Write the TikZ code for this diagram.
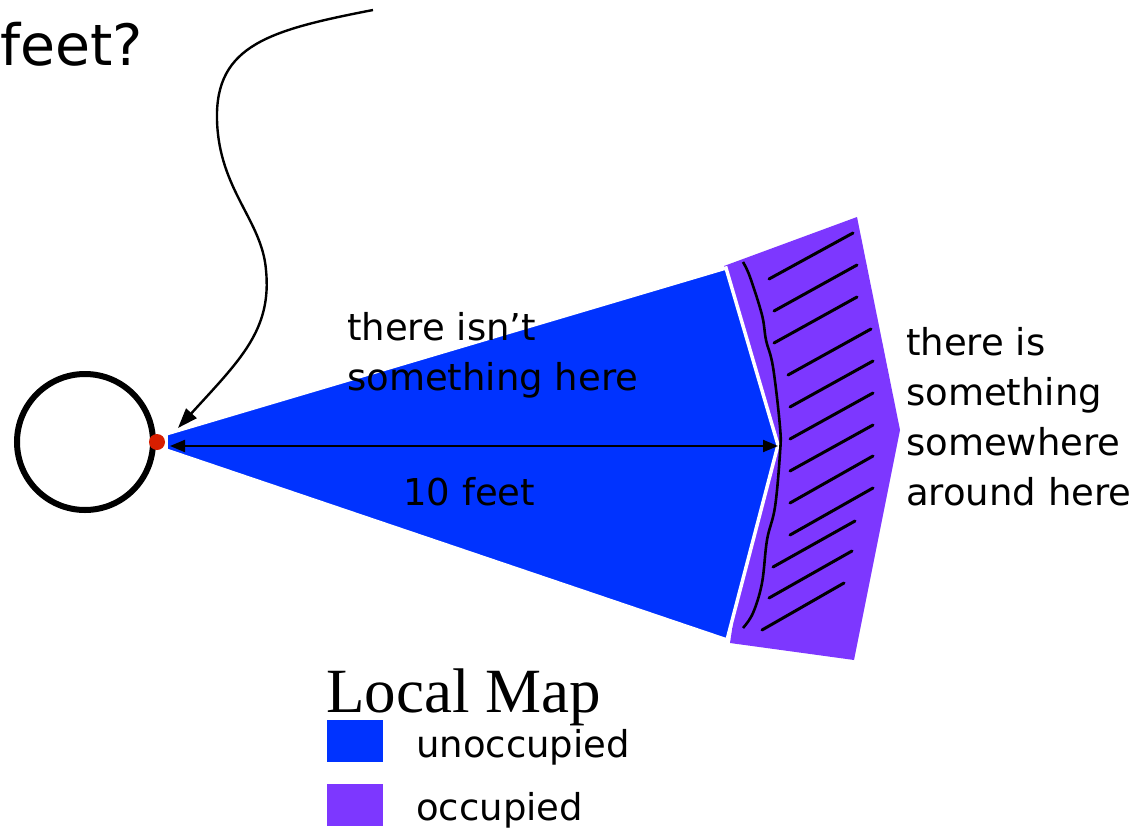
\documentclass[tikz,border=0pt]{standalone}
\usepackage{fontspec}
\setmainfont{DejaVu Sans}
\newfontfamily\seriffont{Liberation Serif}
\usetikzlibrary{arrows.meta}
\definecolor{freeblue}{RGB}{0,51,255}
\definecolor{occpurple}{RGB}{125,55,255}
\definecolor{dotred}{RGB}{215,30,0}
\tikzset{
  lbl/.style={anchor=base west, inner sep=0pt, font=\fontsize{37}{50}\selectfont, align=left},
  hatch/.style={line width=3pt, line cap=round},
  tip/.style={-{Triangle[length=20pt,width=14pt]}},
}
\begin{document}
\begin{tikzpicture}[x=1pt,y=-1pt]
\useasboundingbox (0,0) rectangle (1139,829);
% occupied region
\fill[occpurple] (724,266) -- (857,217) -- (900,430) -- (854,660) -- (730,643) -- (760,445) -- cycle;
% unoccupied region
\filldraw[fill=freeblue, draw=white, line width=3.5pt, line join=miter] (166,434) -- (726,268) -- (778,445) -- (727,640) -- (166,450) -- cycle;
% boundary curve
\draw[line width=2.6pt] plot[smooth, tension=0.6] coordinates {(743,262) (750,277) (762,315) (766,340) (773,367) (780,427) (780,453) (775,507) (767,540) (762,583) (753,613) (743,628)};
% hatch lines
\draw[hatch] (769,279) -- (853,233);
\draw[hatch] (774,311) -- (857,265);
\draw[hatch] (774,343) -- (857,297);
\draw[hatch] (788,375) -- (871,329);
\draw[hatch] (790,407) -- (873,361);
\draw[hatch] (790,439) -- (873,393);
\draw[hatch] (790,471) -- (873,425);
\draw[hatch] (790,503) -- (873,456);
\draw[hatch] (790,535) -- (873,488);
\draw[hatch] (773,567) -- (855,521);
\draw[hatch] (769,598) -- (852,551);
\draw[hatch] (762,630) -- (844,583);
% robot
\node[draw, circle, line width=6pt, minimum size=136pt, inner sep=0pt] (robot) at (85,442) {};
\node[circle, fill=dotred, minimum size=16pt, inner sep=0pt] (sensor) at (157,442) {};
% range arrow
\coordinate (rl) at (170,446);
\coordinate (rr) at (778,446);
\draw[line width=2pt, {Triangle[length=15pt,width=12pt]}-{Triangle[length=15pt,width=12pt]}] (rl) -- (rr);
% curvy arrow
\coordinate (cs) at (373,10);
\coordinate (ce) at (178,428);
\draw[line width=2.4pt, tip] (cs) .. controls (270,30) and (215,45) .. (217,120)
  .. controls (219,190) and (262,220) .. (266,270)
  .. controls (272,330) and (240,360) .. (ce);
% texts
\node[lbl, font=\fontsize{57}{60}\selectfont] (q) at (0,66) {feet?};
\node[lbl] (here) at (347,390) {there isn’t\\something here};
\node[lbl] (ten) at (403,505) {10 feet};
\node[lbl] (some) at (906,505) {there is\\something\\somewhere\\around here};
% legend
\node[anchor=base west, inner sep=0pt, font=\seriffont\fontsize{63}{70}\selectfont] (title) at (326,712) {Local Map};
\fill[freeblue] (327,720) rectangle (383,762);
\fill[occpurple] (327,784) rectangle (383,826);
\node[lbl] (unocc) at (416,757) {unoccupied};
\node[lbl] (occ) at (416,820) {occupied};
\end{tikzpicture}
\end{document}
